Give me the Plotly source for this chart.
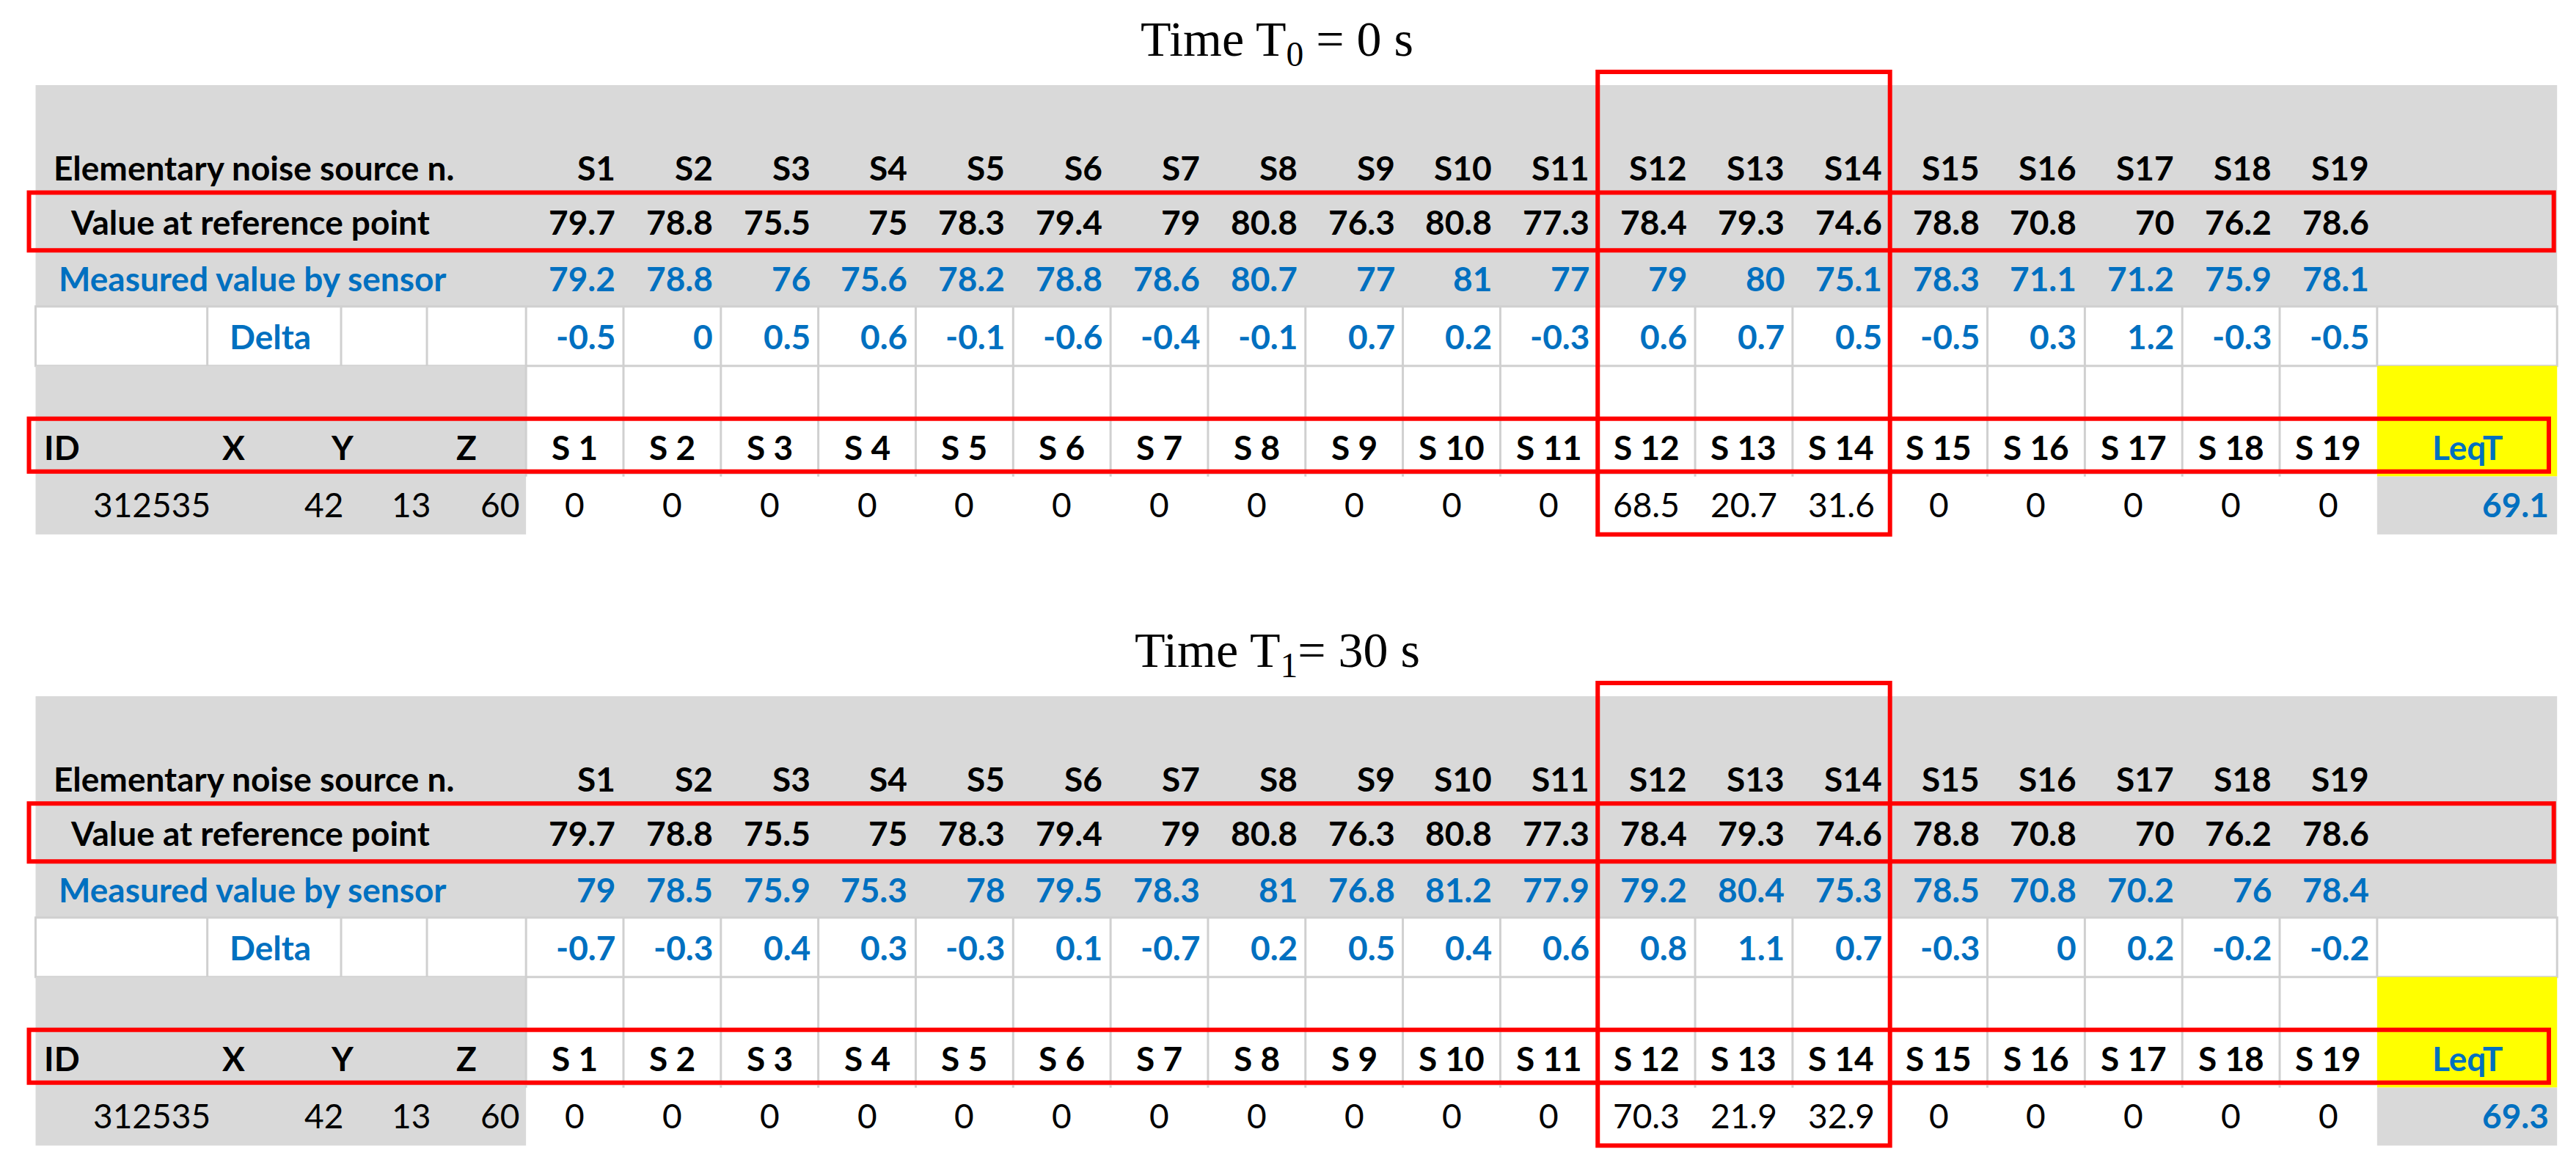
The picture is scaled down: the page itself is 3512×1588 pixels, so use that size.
import plotly.graph_objects as go

sources = [f"S{i}" for i in range(1, 20)]
id_labels = [f"S {i}" for i in range(1, 20)]
titles = ["Time T<sub>0</sub> = 0 s", "Time T<sub>1</sub>= 30 s"]
ref_vals = [79.7, 78.8, 75.5, 75, 78.3, 79.4, 79, 80.8, 76.3, 80.8, 77.3, 78.4, 79.3, 74.6, 78.8, 70.8, 70, 76.2, 78.6]
meas_t0 = [79.2, 78.8, 76, 75.6, 78.2, 78.8, 78.6, 80.7, 77, 81, 77, 79, 80, 75.1, 78.3, 71.1, 71.2, 75.9, 78.1]
delta_t0 = [-0.5, 0, 0.5, 0.6, -0.1, -0.6, -0.4, -0.1, 0.7, 0.2, -0.3, 0.6, 0.7, 0.5, -0.5, 0.3, 1.2, -0.3, -0.5]
contrib_t0 = [0, 0, 0, 0, 0, 0, 0, 0, 0, 0, 0, 68.5, 20.7, 31.6, 0, 0, 0, 0, 0]
meas_t1 = [79, 78.5, 75.9, 75.3, 78, 79.5, 78.3, 81, 76.8, 81.2, 77.9, 79.2, 80.4, 75.3, 78.5, 70.8, 70.2, 76, 78.4]
delta_t1 = [-0.7, -0.3, 0.4, 0.3, -0.3, 0.1, -0.7, 0.2, 0.5, 0.4, 0.6, 0.8, 1.1, 0.7, -0.3, 0, 0.2, -0.2, -0.2]
contrib_t1 = [0, 0, 0, 0, 0, 0, 0, 0, 0, 0, 0, 70.3, 21.9, 32.9, 0, 0, 0, 0, 0]
leq = [69.1, 69.3]
point_id = ["312535", "42", "13", "60"]
id_head = ["ID", "X", "Y", "Z"]

K = 3512 / 1560.0
GRAY = "#D9D9D9"; BLUE = "#0070C0"; RED = "#FF0000"; YEL = "#FFFF00"; GRID = "#D0D0D0"
FONT = "Lato, Open Sans, sans-serif"
FS = 46

shapes = []; ann = []
def rect(x0, y0, x1, y1, fill=None, line=None, lw=0):
    shapes.append(dict(type="rect", x0=x0*K, y0=y0*K, x1=x1*K, y1=y1*K, layer="below" if fill else "above",
                       fillcolor=fill if fill else "rgba(0,0,0,0)",
                       line=dict(color=line if line else "rgba(0,0,0,0)", width=lw)))
def txt(x, y, s, anchor="center", color="black", bold=False, size=FS, font=FONT):
    ann.append(dict(x=x*K, y=y*K, text=f"<b>{s}</b>" if bold else s, showarrow=False, xanchor=anchor,
                    yanchor="middle", font=dict(family=font, size=size, color=color)))

def fmt(v):
    return f"{v:g}"

L, R = 18, 1545
lab_edges = [18, 122, 203, 255, 315]
CW = 59
S0 = 315
sx = [S0 + i*CW for i in range(20)]
LQ = sx[-1]

for t in range(2):
    o = t*370
    meas = [meas_t0, meas_t1][t]; dl = [delta_t0, delta_t1][t]; cb = [contrib_t0, contrib_t1][t]
    txt(770, 22+o, titles[t], size=68, font="Liberation Serif, DejaVu Serif, serif")
    rect(L, 48+o, R, 182+o, fill=GRAY)
    rect(L, 182+o, R, 218+o, fill="white", line=GRID, lw=3)
    rect(L, 218+o, S0, 320+o, fill=GRAY)
    rect(LQ, 218+o, R, 285+o, fill=YEL)
    rect(LQ, 285+o, R, 320+o, fill=GRAY)
    for i in range(20):
        shapes.append(dict(type="line", x0=sx[i]*K, x1=sx[i]*K, y0=182*K+o*K, y1=(285 if i < 19 else 218)*K+o*K,
                           line=dict(color=GRID, width=3), layer="below"))
    for e in lab_edges[1:4]:
        shapes.append(dict(type="line", x0=e*K, x1=e*K, y0=182*K+o*K, y1=218*K+o*K, line=dict(color=GRID, width=3), layer="below"))
    for yy in (250, 283):
        shapes.append(dict(type="line", x0=S0*K, x1=LQ*K, y0=(yy+o)*K, y1=(yy+o)*K, line=dict(color=GRID, width=3), layer="below"))
    txt(28, 98+o, "Elementary noise source n.", "left", bold=True)
    txt(38, 131+o, "Value at reference point", "left", bold=True)
    txt(31, 165+o, "Measured value by sensor", "left", BLUE, bold=True)
    txt(160, 200+o, "Delta", "center", BLUE, bold=True)
    hx = [22, 130, 196, 272]
    for s, x in zip(id_head, hx):
        txt(x, 267+o, s, "left", bold=True)
    for s, x in zip(point_id, [125, 205, 258, 312]):
        txt(x, 302+o, s, "right")
    for i in range(19):
        xr = sx[i+1] - 4; xc = sx[i] + CW/2
        txt(xr, 98+o, sources[i], "right", bold=True)
        txt(xr, 131+o, fmt(ref_vals[i]), "right", bold=True)
        txt(xr, 165+o, fmt(meas[i]), "right", BLUE, bold=True)
        txt(xr, 200+o, fmt(dl[i]), "right", BLUE, bold=True)
        txt(xc, 267+o, id_labels[i], "center", bold=True)
        txt(xc, 302+o, fmt(cb[i]), "center")
    txt((LQ+R)/2, 267+o, "LeqT", "center", BLUE, bold=True)
    txt(R-4, 302+o, fmt(leq[t]), "right", BLUE, bold=True)
    rect(14, 113+o, 1543, 148+o, line=RED, lw=6)
    rect(14, 250+o, 1540, 282+o, line=RED, lw=6)
    rect(sx[11], 40+o, sx[14], 320+o, line=RED, lw=6)

fig = go.Figure()
fig.update_layout(width=3512, height=1588, margin=dict(l=0, r=0, t=0, b=0), paper_bgcolor="white",
                  plot_bgcolor="white", shapes=shapes, annotations=ann, showlegend=False,
                  xaxis=dict(range=[0, 3512], visible=False, fixedrange=True),
                  yaxis=dict(range=[1588, 0], visible=False, fixedrange=True))
fig.write_html("out.html")
